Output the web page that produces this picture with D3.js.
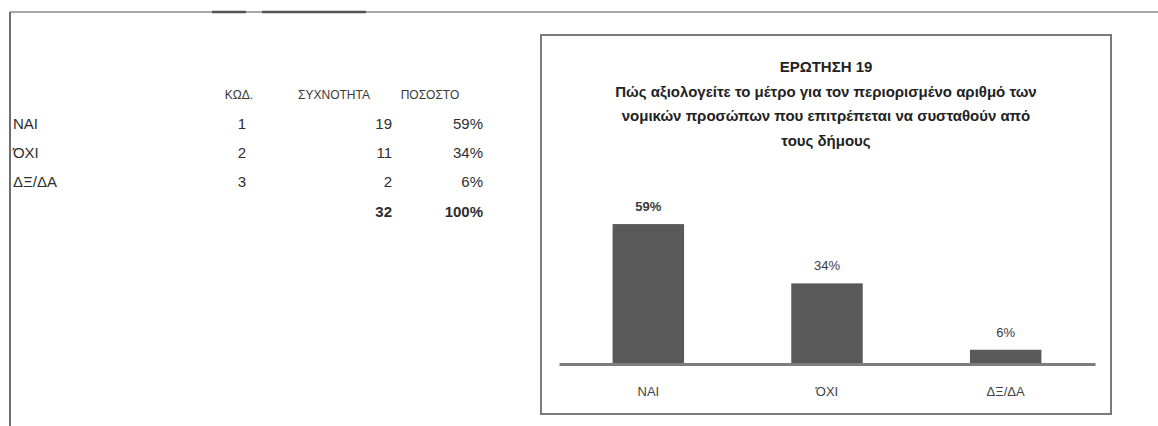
<!DOCTYPE html>
<html>
<head>
<meta charset="utf-8">
<script src="https://cdn.jsdelivr.net/npm/d3@7"></script>
<style>
  html, body { margin: 0; padding: 0; background: #fff; }
  svg text { font-family: "Liberation Sans Narrow", "Liberation Sans", "DejaVu Sans", sans-serif; }
</style>
</head>
<body>
<svg id="svg" width="1158" height="426"></svg>
<script>
// table / chart data
const categories = ["ΝΑΙ", "ΌΧΙ", "ΔΞ/ΔΑ"];
const codes = [1, 2, 3];
const counts = [19, 11, 2];
const shares = [0.59, 0.34, 0.06];
const totalCount = 32;
const totalShare = 1.0;
const headers = ["ΚΩΔ.", "ΣΥΧΝΟΤΗΤΑ", "ΠΟΣΟΣΤΟ"];
const titleLines = [
  "ΕΡΩΤΗΣΗ 19",
  "Πώς αξιολογείτε το μέτρο για τον περιορισμένο αριθμό των",
  "νομικών προσώπων που επιτρέπεται να συσταθούν από",
  "τους δήμους"
];

const pct = d3.format(".0%");
const svg = d3.select('#svg');

// 1) outer sheet frame
svg.append('line').attr('x1', 10).attr('x2', 1158).attr('y1', 12).attr('y2', 12)
  .attr('stroke', '#8a8a8a').attr('stroke-width', 1.5);
svg.append('line').attr('x1', 10).attr('x2', 10).attr('y1', 12).attr('y2', 426)
  .attr('stroke', '#6e6e6e').attr('stroke-width', 2);
// darker bits on the top edge of the scan
[[212, 246], [262, 366]].forEach(s => {
  svg.append('line').attr('x1', s[0]).attr('x2', s[1]).attr('y1', 12).attr('y2', 12)
    .attr('stroke', '#555').attr('stroke-width', 2.5);
});

// 2) frequency table
const tbl = svg.append('g').attr('fill', '#2e2e2e');
const rowY = d3.scalePoint().domain(d3.range(4)).range([128.5, 216.5]);
const colX = { label: 13, code: 242, count: 392, share: 483 };

tbl.selectAll('text.hdr').data(headers).join('text')
  .attr('class', 'hdr')
  .attr('x', (d, i) => [239, 334, 430][i])
  .attr('y', 99)
  .attr('text-anchor', 'middle')
  .attr('font-size', 12)
  .attr('fill', '#3a3a3a')
  .text(d => d);

const rows = tbl.selectAll('g.row').data(categories).join('g')
  .attr('class', 'row')
  .attr('transform', (d, i) => `translate(0,${rowY(i)})`)
  .attr('font-size', 15);
rows.append('text').attr('x', colX.label).text(d => d);
rows.append('text').attr('x', colX.code).attr('text-anchor', 'middle').text((d, i) => codes[i]);
rows.append('text').attr('x', colX.count).attr('text-anchor', 'end').text((d, i) => counts[i]);
rows.append('text').attr('x', colX.share).attr('text-anchor', 'end').text((d, i) => pct(shares[i]));

const tot = tbl.append('g').attr('transform', `translate(0,${rowY(3)})`)
  .attr('font-size', 15).attr('font-weight', 'bold');
tot.append('text').attr('x', colX.count).attr('text-anchor', 'end').text(totalCount);
tot.append('text').attr('x', colX.share).attr('text-anchor', 'end').text(pct(totalShare));

// 3) chart box
const box = { x: 541, y: 35, w: 570, h: 379 };
svg.append('rect')
  .attr('x', box.x).attr('y', box.y).attr('width', box.w).attr('height', box.h)
  .attr('fill', '#fff').attr('stroke', '#7a7a7a').attr('stroke-width', 2);

const cx = box.x + box.w / 2;
svg.append('g').selectAll('text').data(titleLines).join('text')
  .attr('x', cx)
  .attr('y', (d, i) => 72 + i * 24.5)
  .attr('text-anchor', 'middle')
  .attr('font-size', 15)
  .attr('font-weight', 'bold')
  .attr('fill', '#222')
  .text(d => d);

// 4) bars
const x = d3.scaleBand().domain(categories).range([559, 1095])
  .paddingInner(0.6).paddingOuter(0.3);
const y = d3.scaleLinear().domain([0, 0.7]).range([364, 198]);

svg.append('g').selectAll('rect').data(categories).join('rect')
  .attr('x', d => x(d))
  .attr('y', (d, i) => y(shares[i]))
  .attr('width', x.bandwidth())
  .attr('height', (d, i) => y(0) - y(shares[i]))
  .attr('fill', '#595959');

svg.append('g').selectAll('text').data(categories).join('text')
  .attr('x', d => x(d) + x.bandwidth() / 2)
  .attr('y', (d, i) => y(shares[i]) - 13)
  .attr('text-anchor', 'middle')
  .attr('font-size', 13)
  .attr('font-weight', (d, i) => i === 0 ? 'bold' : 'normal')
  .attr('fill', '#3a3a3a')
  .text((d, i) => pct(shares[i]));

// x axis line + category labels
const xAxis = d3.axisBottom(x).tickSize(0).tickPadding(23);
const ax = svg.append('g').attr('transform', `translate(0,${y(0)})`).call(xAxis);
ax.select('.domain').attr('stroke', '#7d7d7d').attr('stroke-width', 3);
ax.selectAll('text')
  .attr('font-size', 13)
  .attr('fill', '#444')
  .style('font-family', '"Liberation Sans Narrow", "Liberation Sans", sans-serif');
</script>
</body>
</html>
